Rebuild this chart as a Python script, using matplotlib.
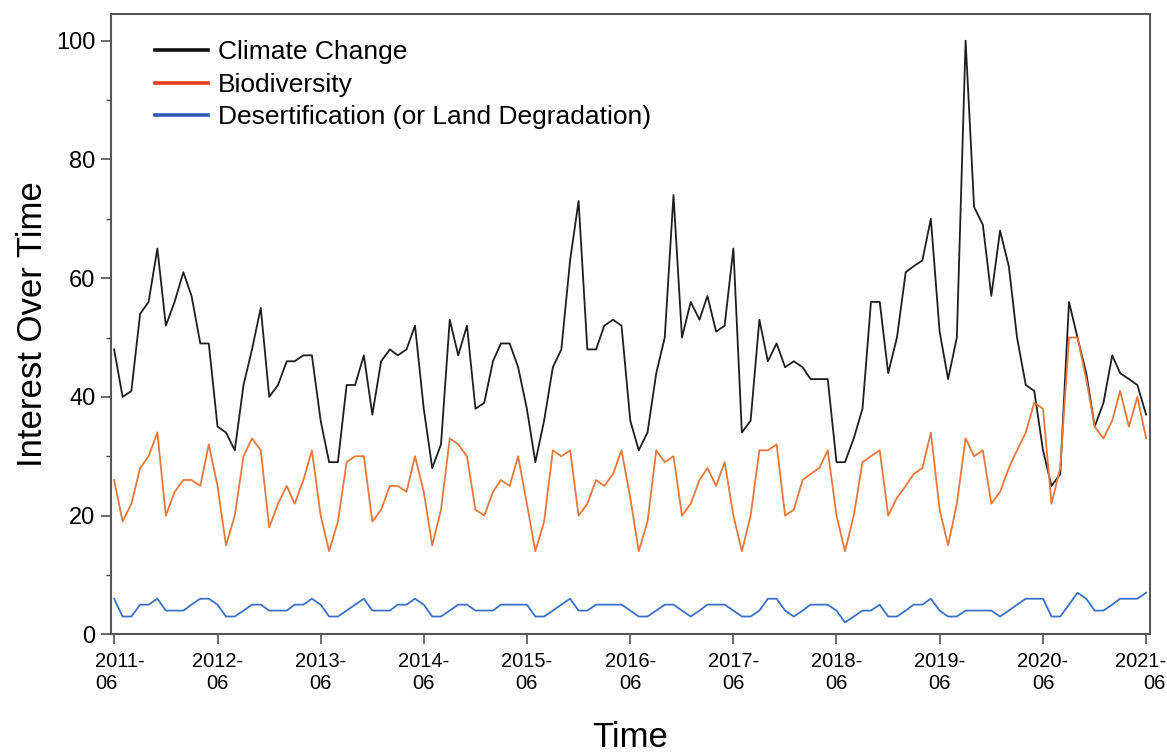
import numpy as np
import pandas as pd
import matplotlib
matplotlib.use("Agg")
import matplotlib.pyplot as plt
import matplotlib.dates as mdates
import matplotlib.transforms as mtransforms
from matplotlib.lines import Line2D

plt.rcParams['font.family'] = ['Liberation Sans', 'DejaVu Sans']

# monthly Google-Trends style values, 2011-06 .. 2021-06
months = pd.date_range("2011-06-01", "2021-06-01", freq="MS")

climate_change = [
    48, 40, 41, 54, 56, 65, 52, 56, 61, 57, 49, 49, 35, 34, 31, 42, 48, 55, 40, 42, 46, 46, 47, 47, 36, 29,
    29, 42, 42, 47, 37, 46, 48, 47, 48, 52, 38, 28, 32, 53, 47, 52, 38, 39, 46, 49, 49, 45, 38, 29,
    36, 45, 48, 63, 73, 48, 48, 52, 53, 52, 36, 31, 34, 44, 50, 74, 50, 56, 53, 57, 51, 52, 65, 34, 36,
    53, 46, 49, 45, 46, 45, 43, 43, 43, 29, 29, 33, 38, 56, 56, 44, 50, 61, 62, 63, 70, 51, 43, 50,
    100, 72, 69, 57, 68, 62, 50, 42, 41, 31, 25, 27, 56, 50, 44, 35, 39, 47, 44, 43, 42, 37,
]
biodiversity = [
    26, 19, 22, 28, 30, 34, 20, 24, 26, 26, 25, 32, 25, 15, 20, 30, 33, 31, 18, 22, 25, 22, 26, 31, 20, 14,
    19, 29, 30, 30, 19, 21, 25, 25, 24, 30, 24, 15, 21, 33, 32, 30, 21, 20, 24, 26, 25, 30, 22, 14,
    19, 31, 30, 31, 20, 22, 26, 25, 27, 31, 23, 14, 19, 31, 29, 30, 20, 22, 26, 28, 25, 29, 20, 14, 20,
    31, 31, 32, 20, 21, 26, 27, 28, 31, 20, 14, 20, 29, 30, 31, 20, 23, 25, 27, 28, 34, 21, 15, 22,
    33, 30, 31, 22, 24, 28, 31, 34, 39, 38, 22, 28, 50, 50, 43, 35, 33, 36, 41, 35, 40, 33,
]
desertification = [
    6, 3, 3, 5, 5, 6, 4, 4, 4, 5, 6, 6, 5, 3, 3, 4, 5, 5, 4, 4, 4, 5, 5, 6, 5, 3,
    3, 4, 5, 6, 4, 4, 4, 5, 5, 6, 5, 3, 3, 4, 5, 5, 4, 4, 4, 5, 5, 5, 5, 3,
    3, 4, 5, 6, 4, 4, 5, 5, 5, 5, 4, 3, 3, 4, 5, 5, 4, 3, 4, 5, 5, 5, 4, 3, 3,
    4, 6, 6, 4, 3, 4, 5, 5, 5, 4, 2, 3, 4, 4, 5, 3, 3, 4, 5, 5, 6, 4, 3, 3,
    4, 4, 4, 4, 3, 4, 5, 6, 6, 6, 3, 3, 5, 7, 6, 4, 4, 5, 6, 6, 6, 7,
]

series_labels = ["Climate Change", "Biodiversity", "Desertification (or Land Degradation)"]
line_colors = ["#1e1e1e", "#e8773a", "#3b70c4"]
legend_colors = ["#111111", "#ee3b24", "#2b5db5"]

fig = plt.figure(figsize=(11.67, 7.53), dpi=100)
ax = fig.add_axes([0.0949, 0.1576, 0.8906, 0.8238])

for vals, c in zip([climate_change, biodiversity, desertification], line_colors):
    ax.plot(months, vals, color=c, lw=1.3)

ax.set_xlim(months[0] - pd.Timedelta(days=12), months[-1] + pd.Timedelta(days=14))
ax.set_ylim(0, 104.5)

ax.set_yticks([0, 20, 40, 60, 80, 100])
ax.set_yticks([10, 30, 50, 70, 90], minor=True)
ax.tick_params(axis="y", which="major", labelsize=17, length=7, width=1.1, color="#444444", pad=4)
ax.tick_params(axis="y", which="minor", length=3.5, width=1.0, color="#444444")

year_ticks = months[::12]
ax.set_xticks(year_ticks)
ax.set_xticklabels([d.strftime("%Y-\n%m") for d in year_ticks])
ax.tick_params(axis="x", which="major", labelsize=14.5, length=7, width=1.1, color="#444444", pad=6)
ax.xaxis.set_minor_locator(mdates.YearLocator(1, month=1))
ax.tick_params(axis="x", which="minor", length=0)

# first and last labels are nudged inward like in the original
xlabels = ax.get_xticklabels()
xlabels[0].set_multialignment("left")
xlabels[0].set_transform(xlabels[0].get_transform() +
                         mtransforms.ScaledTranslation(6 / 100, 0, fig.dpi_scale_trans))
xlabels[-1].set_multialignment("right")
xlabels[-1].set_transform(xlabels[-1].get_transform() +
                          mtransforms.ScaledTranslation(-6 / 100, 0, fig.dpi_scale_trans))

for sp in ax.spines.values():
    sp.set_color("#555555")
    sp.set_linewidth(1.5)

ax.set_ylabel("Interest Over Time", fontsize=25, labelpad=5)
ax.set_xlabel("Time", fontsize=25, labelpad=20)

handles = [Line2D([], [], color=c, lw=2.6) for c in legend_colors]
ax.legend(handles, series_labels, loc="upper left", bbox_to_anchor=(0.0426, 0.958),
          frameon=False, fontsize=19, borderpad=0, borderaxespad=0,
          handlelength=2.0, handletextpad=0.4, labelspacing=0.33)

fig.savefig("out.png", dpi=100)
